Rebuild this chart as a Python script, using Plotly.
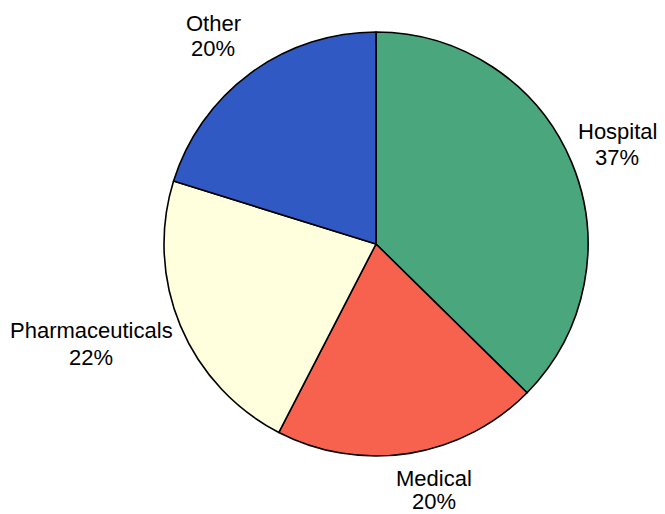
import plotly.graph_objects as go

labels = ["Hospital", "Medical", "Pharmaceuticals", "Other"]
values = [37, 20, 22, 20]
colors = ["#4aa67d", "#f6624e", "#ffffdd", "#3159c3"]

W, H = 665, 514
# page is rendered with an 8px body margin; work in figure pixels
cx, cy, r = 368, 236, 212

# label centre positions (figure pixels, layout only): x, y of name line, y of percent line
label_pos = {
    "Hospital": (609, 123, 149),
    "Medical": (426, 470, 493),
    "Pharmaceuticals": (83, 322, 349),
    "Other": (205, 15, 41),
}

fig = go.Figure(go.Pie(
    labels=labels,
    values=values,
    sort=False,
    direction="clockwise",
    rotation=0,
    marker=dict(colors=colors, line=dict(color="black", width=1.6)),
    textinfo="none",
    showlegend=False,
    hoverinfo="skip",
    domain=dict(x=[(cx - r) / W, (cx + r) / W], y=[(H - cy - r) / H, (H - cy + r) / H]),
))

font = dict(family="Liberation Sans, Arial, sans-serif", size=22, color="black")
for lab, val in zip(labels, values):
    x, y1, y2 = label_pos[lab]
    for txt, yy in ((lab, y1), (f"{round(val)}%", y2)):
        fig.add_annotation(
            x=x / W, y=1 - yy / H, xref="paper", yref="paper",
            text=txt, showarrow=False, xanchor="center", yanchor="middle",
            font=font,
        )

fig.update_layout(
    width=W, height=H,
    margin=dict(l=0, r=0, t=0, b=0),
    paper_bgcolor="white",
    plot_bgcolor="white",
)
fig.write_html("out.html")
